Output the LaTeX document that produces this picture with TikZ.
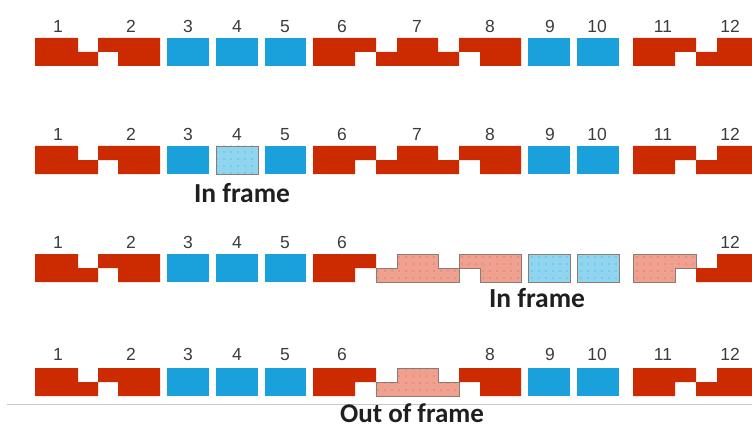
\documentclass[tikz,border=0pt]{standalone}
\usepackage{fontspec}
\newfontfamily\numfont{Liberation Sans}
\newfontfamily\labfont{Carlito}
\usetikzlibrary{patterns.meta}
\definecolor{exred}{HTML}{CC2B02}
\definecolor{exblue}{HTML}{1AA0DA}
\definecolor{palered}{HTML}{EFA08F}
\definecolor{palemark}{HTML}{C8604E}
\definecolor{paleblue}{HTML}{8FD5EF}
\definecolor{bluemark}{HTML}{3E9CC4}
\definecolor{paleedge}{HTML}{8C7B74}
\definecolor{numgray}{HTML}{3C3C3C}
\tikzset{
  redx/.style={fill=exred},
  bluex/.style={fill=exblue},
  palered/.style={preaction={fill=palered}, pattern={Dots[distance=7pt,radius=0.7pt]}, pattern color=palemark, draw=paleedge, line width=0.7pt},
  paleblue/.style={preaction={fill=paleblue}, pattern={Dots[distance=7pt,radius=0.7pt]}, pattern color=bluemark, draw=paleedge, line width=0.7pt},
  num/.style={font=\numfont\fontsize{17.5}{17.5}\selectfont, text=numgray, inner sep=0pt, text height=13pt, text depth=0pt},
  lab/.style={font=\labfont\bfseries\fontsize{27.5}{27.5}\selectfont, text=black!88, inner sep=0pt, anchor=base}
}
\def\pEone{(35,0)--(78,0)--(78,14)--(98,14)--(98,28)--(35,28)--cycle}
\def\pEtwo{(98,0)--(160,0)--(160,28)--(118,28)--(118,14)--(98,14)--cycle}
\def\pEthree{(167,0) rectangle (209,28)}
\def\pEfour{(216,0) rectangle (258,28)}
\def\pEfive{(265,0) rectangle (306,28)}
\def\pEsix{(313,0)--(376,0)--(376,14)--(355,14)--(355,28)--(313,28)--cycle}
\def\pEseven{(376,14)--(397,14)--(397,0)--(438,0)--(438,14)--(459,14)--(459,28)--(376,28)--cycle}
\def\pEeight{(459,0)--(521,0)--(521,28)--(480,28)--(480,14)--(459,14)--cycle}
\def\pEnine{(528,0) rectangle (570,28)}
\def\pEten{(577,0) rectangle (619,28)}
\def\pEeleven{(633,0)--(696,0)--(696,14)--(675,14)--(675,28)--(633,28)--cycle}
\def\pEtwelve{(696,14)--(717,14)--(717,0)--(752,0)--(752,28)--(696,28)--cycle}
\begin{document}
\begin{tikzpicture}[x=1pt,y=-1pt]
\useasboundingbox (0,0) rectangle (752,425);
% ---------- Row 1
\begin{scope}[shift={(0,38)}]
\fill[redx] \pEone; \fill[redx] \pEtwo;
\fill[bluex] \pEthree; \fill[bluex] \pEfour; \fill[bluex] \pEfive;
\fill[redx] \pEsix; \fill[redx] \pEseven; \fill[redx] \pEeight;
\fill[bluex] \pEnine; \fill[bluex] \pEten;
\fill[redx] \pEeleven; \fill[redx] \pEtwelve;
\node[num] (a1) at (58,-12) {1};
\node[num] (a2) at (131,-12) {2};
\node[num] (a3) at (188,-12) {3};
\node[num] (a4) at (237,-12) {4};
\node[num] (a5) at (285,-12) {5};
\node[num] (a6) at (342,-12) {6};
\node[num] (a7) at (417,-12) {7};
\node[num] (a8) at (490,-12) {8};
\node[num] (a9) at (550,-12) {9};
\node[num] (a10) at (597,-12) {10};
\node[num] (a11) at (663,-12) {11};
\node[num] (a12) at (730,-12) {12};
\end{scope}
% ---------- Row 2
\begin{scope}[shift={(0,146)}]
\fill[redx] \pEone; \fill[redx] \pEtwo;
\fill[bluex] \pEthree; \draw[paleblue] \pEfour; \fill[bluex] \pEfive;
\fill[redx] \pEsix; \fill[redx] \pEseven; \fill[redx] \pEeight;
\fill[bluex] \pEnine; \fill[bluex] \pEten;
\fill[redx] \pEeleven; \fill[redx] \pEtwelve;
\node[num] (b1) at (58,-12) {1};
\node[num] (b2) at (131,-12) {2};
\node[num] (b3) at (188,-12) {3};
\node[num] (b4) at (237,-12) {4};
\node[num] (b5) at (285,-12) {5};
\node[num] (b6) at (342,-12) {6};
\node[num] (b7) at (417,-12) {7};
\node[num] (b8) at (490,-12) {8};
\node[num] (b9) at (550,-12) {9};
\node[num] (b10) at (597,-12) {10};
\node[num] (b11) at (663,-12) {11};
\node[num] (b12) at (730,-12) {12};
\node[lab] (l2) at (242,56) {In frame};
\end{scope}
% ---------- Row 3
\begin{scope}[shift={(0,254)}]
\fill[redx] \pEone; \fill[redx] \pEtwo;
\fill[bluex] \pEthree; \fill[bluex] \pEfour; \fill[bluex] \pEfive;
\fill[redx] \pEsix; \draw[palered] \pEseven; \draw[palered] \pEeight;
\draw[paleblue] \pEnine; \draw[paleblue] \pEten;
\draw[palered] \pEeleven; \fill[redx] \pEtwelve;
\node[num] (c1) at (58,-12) {1};
\node[num] (c2) at (131,-12) {2};
\node[num] (c3) at (188,-12) {3};
\node[num] (c4) at (237,-12) {4};
\node[num] (c5) at (285,-12) {5};
\node[num] (c6) at (342,-12) {6};
\node[num] (c12) at (730,-12) {12};
\node[lab] (l3) at (537,53) {In frame};
\end{scope}
% ---------- Row 4
\begin{scope}[shift={(0,368)}]
\fill[redx] \pEone; \fill[redx] \pEtwo;
\fill[bluex] \pEthree; \fill[bluex] \pEfour; \fill[bluex] \pEfive;
\fill[redx] \pEsix; \draw[palered] \pEseven; \fill[redx] \pEeight;
\fill[bluex] \pEnine; \fill[bluex] \pEten;
\fill[redx] \pEeleven; \fill[redx] \pEtwelve;
\node[num] (d1) at (58,-14) {1};
\node[num] (d2) at (131,-14) {2};
\node[num] (d3) at (188,-14) {3};
\node[num] (d4) at (237,-14) {4};
\node[num] (d5) at (285,-14) {5};
\node[num] (d6) at (342,-14) {6};
\node[num] (d8) at (490,-14) {8};
\node[num] (d9) at (550,-14) {9};
\node[num] (d10) at (597,-14) {10};
\node[num] (d11) at (663,-14) {11};
\node[num] (d12) at (730,-14) {12};
\end{scope}
\coordinate (ls) at (7,404.5);
\coordinate (le) at (752,404.5);
\draw[black!22, line width=0.8pt] (ls) -- (le);
\node[lab, font=\labfont\bfseries\fontsize{27}{27}\selectfont] (l4) at (412,422) {Out of frame};
\end{tikzpicture}
\end{document}
